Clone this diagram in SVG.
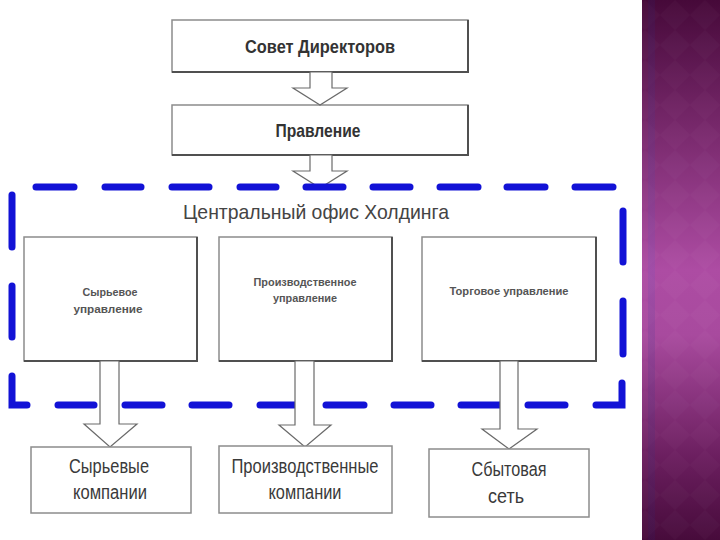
<svg xmlns="http://www.w3.org/2000/svg" width="720" height="540" viewBox="0 0 720 540">
  <defs>
    <linearGradient id="panel" x1="0" y1="0" x2="0" y2="1">
      <stop offset="0" stop-color="#460939"/>
      <stop offset="0.25" stop-color="#7a2a6e"/>
      <stop offset="0.5" stop-color="#ad4ca3"/>
      <stop offset="0.62" stop-color="#a84a9e"/>
      <stop offset="0.85" stop-color="#6a1e5e"/>
      <stop offset="1" stop-color="#470b3b"/>
    </linearGradient>
    <linearGradient id="stripe" x1="0" y1="0" x2="0" y2="1">
      <stop offset="0" stop-color="#3c1450"/>
      <stop offset="0.5" stop-color="#9050b0"/>
      <stop offset="1" stop-color="#3c1450"/>
    </linearGradient>
    <pattern id="diamonds" width="30" height="30" patternUnits="userSpaceOnUse">
      <path d="M15 0 L30 15 L15 30 L0 15 Z" fill="#ffffff" opacity="0.018"/>
    </pattern>
  </defs>
  <style>
    .box { fill: #ffffff; stroke: #8c8c8c; stroke-width: 1.5; }
    .shadow { fill: none; stroke: #505050; stroke-width: 2; }
    .arrow { fill: #ffffff; stroke: #6a6a6a; stroke-width: 1.2; stroke-linejoin: miter; }
    .dash { stroke: #1212d6; stroke-width: 7; stroke-linecap: round; fill: none; }
    .t { font-family: "Liberation Sans", Arial, sans-serif; text-anchor: middle; }
    .head { font-size: 19px; font-weight: bold; fill: #333333; }
    .small { font-size: 11px; font-weight: bold; fill: #555555; }
    .big { font-size: 20px; fill: #3a3a3a; }
    .title { font-size: 21px; fill: #444444; }
  </style>

  <rect x="0" y="0" width="720" height="540" fill="#ffffff"/>

  <!-- right decorative panel -->
  <g id="panel-right">
    <rect x="642" y="0" width="78" height="540" fill="url(#panel)"/>
    <rect x="642" y="0" width="78" height="540" fill="url(#diamonds)"/>
    <rect x="648" y="0" width="7" height="540" fill="url(#stripe)" opacity="0.4"/>
  </g>

  <!-- top nodes -->
  <g id="node-sovet">
    <rect class="box" x="172" y="20" width="296" height="52"/>
    <polyline class="shadow" points="172,72 468,72 468,20"/>
    <text class="t head" x="320" y="53" textLength="150" lengthAdjust="spacingAndGlyphs">Совет Директоров</text>
  </g>
  <g id="node-pravlenie">
    <rect class="box" x="172" y="105" width="296" height="50"/>
    <polyline class="shadow" points="172,155 468,155 468,105"/>
    <text class="t head" x="318" y="137" textLength="85" lengthAdjust="spacingAndGlyphs">Правление</text>
  </g>

  <!-- central office container (dashed) -->
  <g id="group-central-office">
    <g id="arrow-top2">
      <polygon class="arrow" points="310,155 310,171 293,171 320,188 347,171 332,171 332,155"/>
    </g>
    <g id="dashed-border">
      <line class="dash" x1="36" y1="187" x2="74" y2="187"/>
      <line class="dash" x1="105" y1="187" x2="141" y2="187"/>
      <line class="dash" x1="172" y1="187" x2="209" y2="187"/>
      <line class="dash" x1="240" y1="187" x2="276" y2="187"/>
      <line class="dash" x1="306" y1="187" x2="343" y2="187"/>
      <line class="dash" x1="373" y1="187" x2="410" y2="187"/>
      <line class="dash" x1="440" y1="187" x2="478" y2="187"/>
      <line class="dash" x1="507" y1="187" x2="545" y2="187"/>
      <line class="dash" x1="575" y1="187" x2="613" y2="187"/>
      <line class="dash" x1="12" y1="195" x2="12" y2="247"/>
      <line class="dash" x1="12" y1="286" x2="12" y2="337"/>
      <polyline class="dash" points="12,376 12,405 27,405"/>
      <line class="dash" x1="623" y1="211" x2="623" y2="262"/>
      <line class="dash" x1="623" y1="301" x2="623" y2="354"/>
      <polyline class="dash" points="596,405 622,405 622,383"/>
      <line class="dash" x1="58" y1="405" x2="94" y2="405"/>
      <line class="dash" x1="125" y1="405" x2="162" y2="405"/>
      <line class="dash" x1="192" y1="405" x2="229" y2="405"/>
      <line class="dash" x1="260" y1="405" x2="296" y2="405"/>
      <line class="dash" x1="326" y1="405" x2="364" y2="405"/>
      <line class="dash" x1="394" y1="405" x2="431" y2="405"/>
      <line class="dash" x1="461" y1="405" x2="500" y2="405"/>
      <line class="dash" x1="528" y1="405" x2="565" y2="405"/>
    </g>
    <text class="t title" x="316" y="219" textLength="266" lengthAdjust="spacingAndGlyphs">Центральный офис Холдинга</text>
  </g>

  <!-- middle nodes -->
  <g id="node-syrevoe-upr">
    <rect class="box" x="24" y="237" width="173" height="124"/>
    <polyline class="shadow" points="24,361 197,361 197,237"/>
    <text class="t small" x="110" y="296" textLength="55" lengthAdjust="spacingAndGlyphs">Сырьевое</text>
    <text class="t small" x="108" y="313" textLength="69" lengthAdjust="spacingAndGlyphs">управление</text>
  </g>
  <g id="node-proizv-upr">
    <rect class="box" x="219" y="237" width="173" height="124"/>
    <polyline class="shadow" points="219,361 392,361 392,237"/>
    <text class="t small" x="305" y="286" textLength="103" lengthAdjust="spacingAndGlyphs">Производственное</text>
    <text class="t small" x="305" y="302" textLength="64" lengthAdjust="spacingAndGlyphs">управление</text>
  </g>
  <g id="node-torg-upr">
    <rect class="box" x="422" y="237" width="174" height="124"/>
    <polyline class="shadow" points="422,361 596,361 596,237"/>
    <text class="t small" x="509" y="295" textLength="119" lengthAdjust="spacingAndGlyphs">Торговое управление</text>
  </g>

  <!-- connectors -->
  <g id="connectors">
    <polygon class="arrow" points="310,72 310,88 293,88 320,105 347,88 332,88 332,72"/>
    <polygon class="arrow" points="100,361 100,424 84,424 110,447 137,424 119,424 119,361"/>
    <polygon class="arrow" points="295,361 295,425 279,425 305,447 331,425 314,425 314,361"/>
    <polygon class="arrow" points="500,361 500,429 482,429 509,449 537,429 518,429 518,361"/>
  </g>

  <!-- bottom nodes -->
  <g id="node-syrevye-komp">
    <rect class="box" x="31" y="447" width="160" height="66"/>
    <text class="t big" x="109" y="473" textLength="80" lengthAdjust="spacingAndGlyphs">Сырьевые</text>
    <text class="t big" x="110" y="499" textLength="74" lengthAdjust="spacingAndGlyphs">компании</text>
  </g>
  <g id="node-proizv-komp">
    <rect class="box" x="219" y="446" width="173" height="67"/>
    <text class="t big" x="305" y="473" textLength="147" lengthAdjust="spacingAndGlyphs">Производственные</text>
    <text class="t big" x="305" y="499" textLength="73" lengthAdjust="spacingAndGlyphs">компании</text>
  </g>
  <g id="node-sbyt-set">
    <rect class="box" x="429" y="449" width="160" height="68"/>
    <text class="t big" x="509" y="476" textLength="75" lengthAdjust="spacingAndGlyphs">Сбытовая</text>
    <text class="t big" x="506" y="503" textLength="36" lengthAdjust="spacingAndGlyphs">сеть</text>
  </g>
</svg>
